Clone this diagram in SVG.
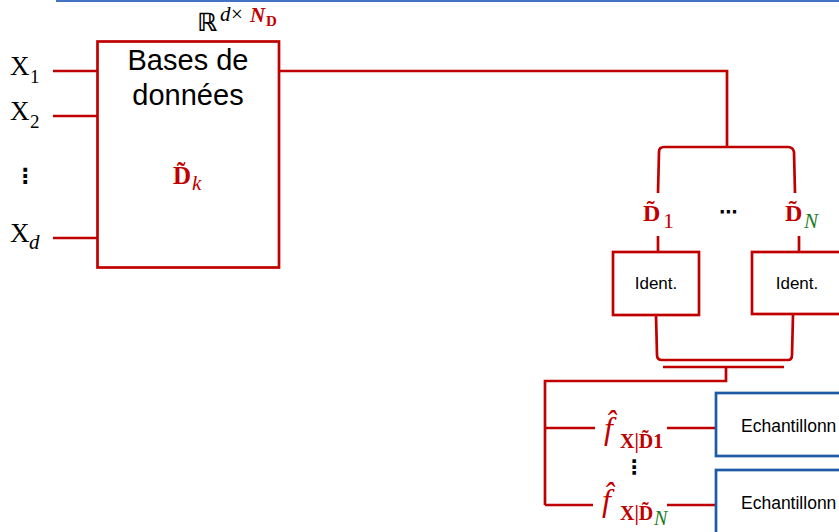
<svg xmlns="http://www.w3.org/2000/svg" width="839" height="532" viewBox="0 0 839 532">
<style>
.r{fill:none;stroke:#C00000;stroke-width:2.7}
.b{fill:#fff;stroke:#1F5AA6;stroke-width:2.7}
.box{fill:#fff;stroke:#C00000;stroke-width:2.7}
.s{font-family:"Liberation Sans",Arial,sans-serif;fill:#000}
.m{font-family:"Liberation Serif","DejaVu Serif",serif;fill:#000}
.red{fill:#C00000}
.grn{fill:#1E7B1E}
.bd{font-weight:bold}
.it{font-style:italic}
.dots{font-family:"DejaVu Sans",sans-serif;fill:#000;font-weight:bold}
</style>
<line x1="56" y1="1" x2="839" y2="1" stroke="#4472C4" stroke-width="2"/>
<g id="connectors">
<path class="r" d="M53 71H97M53 116H97M53 238H97"/>
<path class="r" d="M279 71H727V147"/>
<path class="r" d="M658 193L659 152Q659 147 664 147H788Q793 147 794 152L795 193"/>
<path class="r" d="M658 236V252M799 236V252"/>
<path class="r" d="M656 315L657 355Q657 360 662 360H788Q792 360 792 355L793 315"/>
<path class="r" d="M663 367H784M726 367V381H545V505"/>
<path class="r" d="M545 428H595M667 428H716M545 505H593M667 505H716"/>
</g>
<g id="inputs">
<text class="m"><tspan x="10" y="75" font-size="27">X</tspan><tspan x="30" y="83" font-size="19">1</tspan></text>
<text class="m"><tspan x="10" y="120" font-size="27">X</tspan><tspan x="30" y="128" font-size="19">2</tspan></text>
<text class="dots" x="25" y="183" font-size="21" text-anchor="middle">⋮</text>
<text class="m"><tspan x="10" y="242" font-size="27">X</tspan><tspan class="it" x="29" y="249" font-size="21">d</tspan></text>
</g>
<g id="database">
<rect class="box" x="97.5" y="41.5" width="181.5" height="226"/>
<text class="s" x="188" y="70" font-size="29" text-anchor="middle">Bases de</text>
<text class="s" x="188" y="105" font-size="29" text-anchor="middle">données</text>
<text class="m bd red" font-size="25"><tspan x="173" y="184">D&#x303;</tspan><tspan class="it" x="192" y="190" font-size="21" font-weight="normal">k</tspan></text>
</g>
<g id="space">
<text class="m"><tspan class="dots" x="197" y="31" font-size="25" font-weight="normal">ℝ</tspan><tspan class="it" x="220" y="21" font-size="21">d</tspan><tspan x="231" y="21" font-size="21">×</tspan><tspan class="it bd red" x="250" y="22" font-size="21">N</tspan><tspan class="bd red" x="266" y="26" font-size="15">D</tspan></text>
</g>
<g id="d1">
<text class="m bd red" font-size="24"><tspan x="643" y="221">D&#x303;</tspan><tspan x="663" y="228" font-size="22" font-weight="normal">1</tspan></text>
</g>
<text class="dots" x="728" y="218" font-size="18" text-anchor="middle">⋯</text>
<g id="dN">
<text class="m bd red" font-size="24"><tspan x="785" y="221">D&#x303;</tspan><tspan class="it grn" x="804" y="228" font-size="21" font-weight="normal">N</tspan></text>
</g>
<g id="ident1">
<rect class="box" x="613" y="252" width="86" height="63"/>
<text class="s" x="656" y="289" font-size="17" text-anchor="middle">Ident.</text>
</g>
<g id="identN">
<rect class="box" x="752" y="252" width="90" height="62"/>
<text class="s" x="797" y="289" font-size="17" text-anchor="middle">Ident.</text>
</g>
<g id="f1">
<text class="m red"><tspan class="it" x="604" y="439" font-size="32">f&#x302;</tspan><tspan class="bd" x="620" y="448" font-size="20">X|D&#x303;1</tspan></text>
</g>
<text class="dots" x="634" y="474" font-size="20" text-anchor="middle">⋮</text>
<g id="fN">
<text class="m red"><tspan class="it" x="602" y="511" font-size="32">f&#x302;</tspan><tspan class="bd" x="620" y="520" font-size="20">X|D&#x303;</tspan><tspan class="it grn" x="654" y="525" font-size="20">N</tspan></text>
</g>
<g id="samp1">
<rect class="b" x="716" y="393" width="130" height="63"/>
<text class="s" x="741" y="432" font-size="17.5">Echantillonn</text>
</g>
<g id="sampN">
<rect class="b" x="716" y="470" width="130" height="70"/>
<text class="s" x="741" y="509" font-size="17.5">Echantillonn</text>
</g>
</svg>
